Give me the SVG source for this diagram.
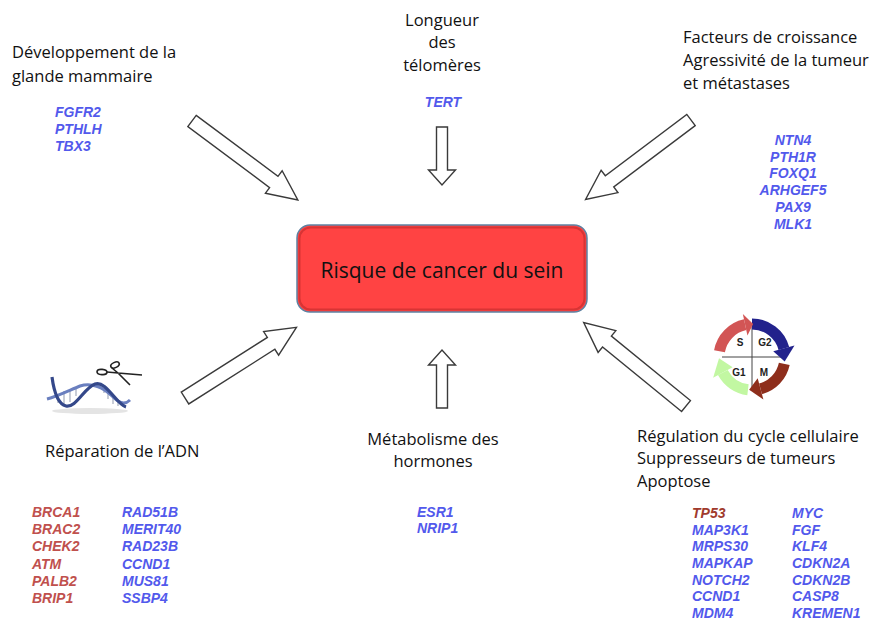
<svg xmlns="http://www.w3.org/2000/svg" width="878" height="623" viewBox="0 0 878 623">
<defs>
<style>
.lbl{font-family:"Open Sans","Liberation Sans",sans-serif;font-size:16.5px;fill:#111}
.gene{font-family:"Liberation Sans",Arial,sans-serif;font-size:14px;font-weight:bold;font-style:italic}
.blue{fill:#5259ec}
.red{fill:#c0504d}
.dred{fill:#a03a2c}
.barrow{fill:#fff;stroke:#3a3a3a;stroke-width:1.4;stroke-linejoin:miter}
.cc{font-family:"Liberation Sans",Arial,sans-serif;font-size:10px;font-weight:bold;fill:#222;text-anchor:middle}
</style>
<path id="diag" d="M0,-7 L102,-7 L102,-14 L132,0 L102,14 L102,7 L0,7 Z"/>
<path id="vert" d="M0,-5.5 L43,-5.5 L43,-13.5 L58,0 L43,13.5 L43,5.5 L0,5.5 Z"/>
</defs>
<rect width="878" height="623" fill="#fff"/>

<g id="connectors">
<use href="#diag" class="barrow" transform="translate(192,121) rotate(36.7)"/>
<use href="#vert" class="barrow" transform="translate(442,127) rotate(90)"/>
<use href="#diag" class="barrow" transform="translate(691,120) rotate(143)"/>
<use href="#diag" class="barrow" transform="translate(185,398) rotate(-32.4)"/>
<use href="#vert" class="barrow" transform="translate(442,408) rotate(-90)"/>
<use href="#diag" class="barrow" transform="translate(686,406) rotate(-140.8)"/>
</g>

<g id="center">
<rect x="297" y="225" width="290" height="87" rx="13" fill="#ff4343" stroke="#5f82a2" stroke-width="1.5"/>
<rect x="299.5" y="227.5" width="285" height="82" rx="11" fill="none" stroke="#d83434" stroke-width="2"/>
<text x="442" y="278" text-anchor="middle" style="font-family:'Open Sans','Liberation Sans',sans-serif;font-size:21px;fill:#111">Risque de cancer du sein</text>
</g>

<g id="dev">
<text class="lbl" x="12" y="58">Développement de la</text>
<text class="lbl" x="12" y="82">glande mammaire</text>
<text class="gene blue" x="55" y="117">FGFR2</text>
<text class="gene blue" x="55" y="134">PTHLH</text>
<text class="gene blue" x="55" y="151">TBX3</text>
</g>

<g id="telomeres">
<text class="lbl" x="442" y="26" text-anchor="middle">Longueur</text>
<text class="lbl" x="442" y="48" text-anchor="middle">des</text>
<text class="lbl" x="442" y="71" text-anchor="middle">télomères</text>
<text class="gene blue" x="443" y="107" text-anchor="middle">TERT</text>
</g>

<g id="croissance">
<text class="lbl" x="683" y="43">Facteurs de croissance</text>
<text class="lbl" x="683" y="66">Agressivité de la tumeur</text>
<text class="lbl" x="683" y="89">et métastases</text>
<g text-anchor="middle">
<text class="gene blue" x="793" y="145">NTN4</text>
<text class="gene blue" x="793" y="162">PTH1R</text>
<text class="gene blue" x="793" y="178">FOXQ1</text>
<text class="gene blue" x="793" y="195">ARHGEF5</text>
<text class="gene blue" x="793" y="212">PAX9</text>
<text class="gene blue" x="793" y="229">MLK1</text>
</g>
</g>

<g id="adn">
<g id="dna-icon">
<ellipse cx="90" cy="411" rx="38" ry="3" fill="#e4e4e4"/>
<g stroke="#a4acbd" stroke-width="1.2">
<line x1="58" y1="394" x2="58" y2="403"/>
<line x1="64" y1="391" x2="64" y2="405"/>
<line x1="70" y1="389" x2="70" y2="402"/>
<line x1="76" y1="388" x2="76" y2="396"/>
<line x1="98" y1="385" x2="98" y2="385"/>
<line x1="100" y1="386" x2="100" y2="388"/>
<line x1="104" y1="388" x2="104" y2="393"/>
<line x1="108" y1="390" x2="108" y2="399"/>
<line x1="113" y1="395" x2="113" y2="404"/>
<line x1="118" y1="400" x2="118" y2="406"/>
</g>
<path d="M47,399 C58,396 70,390 80,386 C92,382 104,388 112,396 C118,402 124,406 130,400" fill="none" stroke="#6a7fbf" stroke-width="3"/>
<path d="M52,377 C54,392 58,404 66,406 C76,408 84,388 95,384 C106,380 116,404 126,407" fill="none" stroke="#34488a" stroke-width="3.2"/>
<g fill="none" stroke="#222" stroke-width="1.6">
<ellipse cx="115" cy="365" rx="4.5" ry="2.6" transform="rotate(-25 115 365)"/>
<ellipse cx="102" cy="372" rx="5" ry="2.6" transform="rotate(5 102 372)"/>
<path d="M112,368 L118,373 L142,375 M107,372 L118,373 L130,385"/>
</g>
</g>
<text class="lbl" x="45" y="457">Réparation de l’ADN</text>
<text class="gene red" x="32" y="517">BRCA1</text>
<text class="gene red" x="32" y="534">BRAC2</text>
<text class="gene red" x="32" y="551">CHEK2</text>
<text class="gene red" x="32" y="569">ATM</text>
<text class="gene red" x="32" y="586">PALB2</text>
<text class="gene red" x="32" y="603">BRIP1</text>
<text class="gene blue" x="122" y="517">RAD51B</text>
<text class="gene blue" x="122" y="534">MERIT40</text>
<text class="gene blue" x="122" y="551">RAD23B</text>
<text class="gene blue" x="122" y="569">CCND1</text>
<text class="gene blue" x="122" y="586">MUS81</text>
<text class="gene blue" x="122" y="603">SSBP4</text>
</g>

<g id="hormones">
<text class="lbl" x="433" y="445" text-anchor="middle">Métabolisme des</text>
<text class="lbl" x="433" y="467" text-anchor="middle">hormones</text>
<text class="gene blue" x="417" y="517">ESR1</text>
<text class="gene blue" x="417" y="533">NRIP1</text>
</g>

<g id="cycle">
<g id="cycle-icon" transform="translate(752,357)">
<line x1="0" y1="-30" x2="0" y2="30" stroke="#444" stroke-width="1"/>
<line x1="-30" y1="0" x2="30" y2="0" stroke="#444" stroke-width="1"/>
<g stroke-width="11" fill="none">
<path d="M-32.5,-5.73 A33,33 0 0 1 -6.86,-32.28" stroke="#d25555"/>
<path d="M0,-33 A33,33 0 0 1 31.88,-8.54" stroke="#22228c"/>
<path d="M32.28,6.86 A33,33 0 0 1 8.54,31.88" stroke="#8e2e1c"/>
<path d="M-4.02,32.75 A33,33 0 0 1 -29.14,15.49" stroke="#c2f7a2"/>
</g>
<polygon points="-4.57,-21.52 -9.15,-43.04 1.15,-32.98" fill="#d25555"/>
<polygon points="21.25,-5.69 42.5,-11.39 32.68,4.59" fill="#22228c"/>
<polygon points="5.69,21.25 11.39,42.5 -2.88,32.87" fill="#8e2e1c"/>
<polygon points="-19.42,10.33 -38.85,20.66 -32.98,1.15" fill="#c2f7a2"/>
<text class="cc" x="-12" y="-11">S</text>
<text class="cc" x="13" y="-11">G2</text>
<text class="cc" x="-13" y="19">G1</text>
<text class="cc" x="12" y="19">M</text>
</g>
<text class="lbl" x="637" y="442">Régulation du cycle cellulaire</text>
<text class="lbl" x="637" y="464">Suppresseurs de tumeurs</text>
<text class="lbl" x="637" y="487">Apoptose</text>
<text class="gene dred" x="692" y="518">TP53</text>
<text class="gene blue" x="692" y="535">MAP3K1</text>
<text class="gene blue" x="692" y="551">MRPS30</text>
<text class="gene blue" x="692" y="568">MAPKAP</text>
<text class="gene blue" x="692" y="585">NOTCH2</text>
<text class="gene blue" x="692" y="601">CCND1</text>
<text class="gene blue" x="692" y="618">MDM4</text>
<text class="gene blue" x="792" y="518">MYC</text>
<text class="gene blue" x="792" y="535">FGF</text>
<text class="gene blue" x="792" y="551">KLF4</text>
<text class="gene blue" x="792" y="568">CDKN2A</text>
<text class="gene blue" x="792" y="585">CDKN2B</text>
<text class="gene blue" x="792" y="601">CASP8</text>
<text class="gene blue" x="792" y="618">KREMEN1</text>
</g>
</svg>
